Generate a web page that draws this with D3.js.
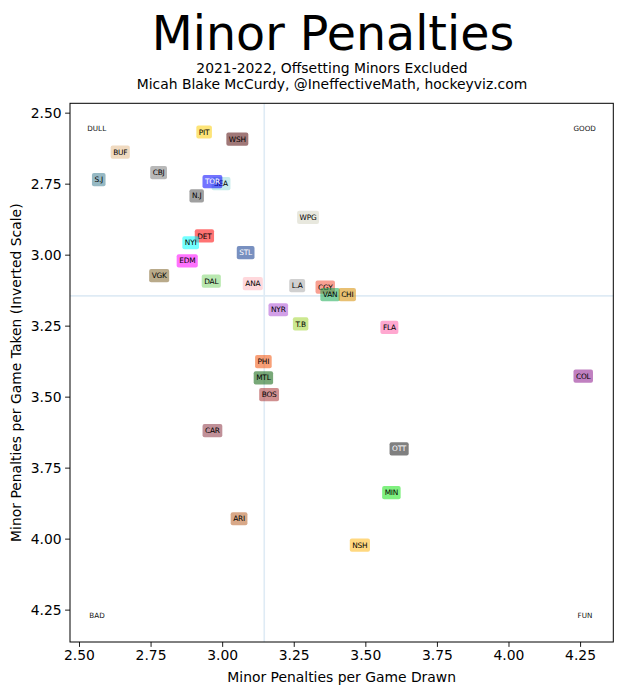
<!DOCTYPE html>
<html><head><meta charset="utf-8">
<script src="https://cdn.jsdelivr.net/npm/d3@7"></script>
<style>body{margin:0;background:#fff}svg{display:block}text{font-family:"DejaVu Sans",sans-serif}</style>
</head><body>
<svg id="c" width="626" height="695"></svg>
<script>
const teams = ["PIT","WSH","BUF","CBJ","S.J","SEA","TOR","N.J","WPG","DET","NYI","STL","EDM","VGK","DAL","ANA","L.A","CGY","VAN","CHI","NYR","T.B","FLA","COL","PHI","MTL","BOS","CAR","OTT","MIN","ARI","NSH"];
const drawn = [2.937,3.053,2.644,2.778,2.569,2.996,2.966,2.911,3.300,2.938,2.890,3.082,2.878,2.780,2.962,3.107,3.262,3.360,3.377,3.437,3.196,3.274,3.584,4.261,3.144,3.144,3.164,2.966,3.618,3.591,3.059,3.481];
const taken = [2.568,2.593,2.639,2.711,2.736,2.750,2.743,2.793,2.869,2.934,2.958,2.993,3.022,3.074,3.093,3.102,3.109,3.114,3.141,3.141,3.194,3.244,3.256,3.428,3.377,3.434,3.493,3.620,3.684,3.838,3.930,4.023];
const teamColors = ["#fbce0a","#520a0a","#e4bc8c","#7e7e7e","#408094","#9bdcdc","#0000ff","#525252","#d5d5c3","#ff0000","#00ffff","#0a358c","#ff00ff","#80642a","#80d56f","#ffb8bf","#aaaaaa","#f25239","#18a952","#d58c00","#ad52d5","#a2d535","#ff61a9","#8c188c","#f2520a","#0a610a","#aa3535","#8c3544","#181818","#18e418","#b86127","#ffb818"];
const whiteText = ["TOR","STL","OTT"];
const xTicks = [2.50,2.75,3.00,3.25,3.50,3.75,4.00,4.25];
const yTicks = [2.50,2.75,3.00,3.25,3.50,3.75,4.00,4.25];
const meanDrawn = 3.147, meanTaken = 3.145;
const cornerLabels = ["DULL","GOOD","BAD","FUN"];
const cornerX = [2.562,4.266,2.563,4.267];
const cornerY = [2.556,2.554,4.269,4.269];

const svg = d3.select("#c");
const L=70, R=613.3, T=103.3, B=642;
const x = d3.scaleLinear().domain([2.4686,4.366]).range([L,R]);
const y = d3.scaleLinear().domain([2.467,4.364]).range([T,B]);
const FS = 13.9;

svg.append("text").attr("x",333).attr("y",50).attr("text-anchor","middle").attr("font-size",47.5).text("Minor Penalties");
svg.append("text").attr("x",332).attr("y",73).attr("text-anchor","middle").attr("font-size",FS).text("2021-2022, Offsetting Minors Excluded");
svg.append("text").attr("x",332).attr("y",89).attr("text-anchor","middle").attr("font-size",FS).text("Micah Blake McCurdy, @IneffectiveMath, hockeyviz.com");

// mean lines
svg.append("line").attr("x1",x(meanDrawn)).attr("x2",x(meanDrawn)).attr("y1",T).attr("y2",B).attr("stroke","#dfebf5").attr("stroke-width",1.6);
svg.append("line").attr("x1",L).attr("x2",R).attr("y1",y(meanTaken)).attr("y2",y(meanTaken)).attr("stroke","#dfebf5").attr("stroke-width",1.6);

// corner labels
cornerLabels.forEach((t,i)=>{
  svg.append("text").attr("x",x(cornerX[i])).attr("y",y(cornerY[i])).attr("dy","0.35em").attr("text-anchor","middle").attr("font-size",7.2).attr("fill","#111").text(t);
});

// team labels
const g = svg.append("g");
teams.forEach((t,i)=>{
  const cx = x(drawn[i]), cy = y(taken[i]);
  const tg = g.append("g").attr("transform",`translate(${cx},${cy})`);
  const tx = tg.append("text").attr("text-anchor","middle").attr("dy","0.35em").attr("font-size",7.4).attr("letter-spacing",-0.2).attr("fill",whiteText.includes(t)?"#fff":"#000").text(t);
  const w = tx.node().getComputedTextLength()+5;
  tg.insert("rect","text").attr("x",-w/2).attr("y",-6.6).attr("width",w).attr("height",13.2).attr("rx",2).attr("fill",teamColors[i]).attr("fill-opacity",0.55);
});

// axes
const xa = svg.append("g").attr("transform",`translate(0,${B})`).call(d3.axisBottom(x).tickValues(xTicks).tickFormat(d3.format(".2f")).tickSizeOuter(0).tickSize(4.9).tickPadding(3.5));
const ya = svg.append("g").attr("transform",`translate(${L},0)`).call(d3.axisLeft(y).tickValues(yTicks).tickFormat(d3.format(".2f")).tickSizeOuter(0).tickSize(4.9).tickPadding(3.5));
[xa,ya].forEach(a=>{a.selectAll("text").attr("font-size",FS).attr("font-family","DejaVu Sans").attr("fill","#000");a.select(".domain").remove();a.selectAll("line").attr("stroke","#000").attr("stroke-width",0.9);});
svg.append("rect").attr("x",L).attr("y",T).attr("width",R-L).attr("height",B-T).attr("fill","none").attr("stroke","#000").attr("stroke-width",1);

svg.append("text").attr("x",(L+R)/2).attr("y",682).attr("text-anchor","middle").attr("font-size",FS).text("Minor Penalties per Game Drawn");
svg.append("text").attr("transform",`translate(21,${(T+B)/2}) rotate(-90)`).attr("text-anchor","middle").attr("font-size",FS).text("Minor Penalties per Game Taken (Inverted Scale)");
</script>
</body></html>
